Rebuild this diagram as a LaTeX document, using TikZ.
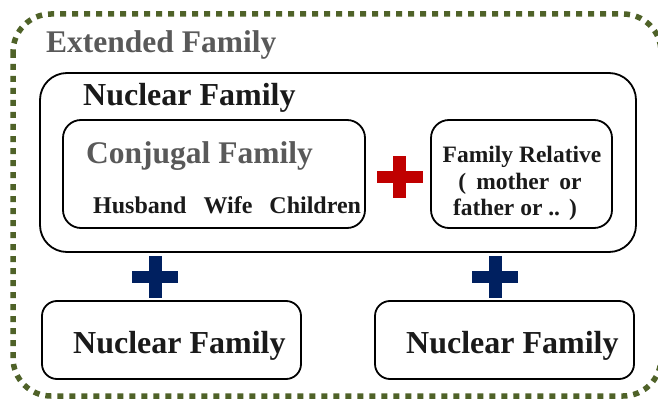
\documentclass[tikz,border=0pt]{standalone}
\usepackage{fontspec}
\setmainfont{Liberation Serif}
\definecolor{olive}{HTML}{4F6228}
\definecolor{grtext}{HTML}{595959}
\definecolor{plusred}{HTML}{C00000}
\definecolor{plusblue}{HTML}{002060}
\definecolor{ink}{HTML}{1A1A1A}
\tikzset{
  box/.style={draw=black, line width=1.8pt},
  lbl/.style={inner sep=0pt, anchor=base west, text=ink, font=\bfseries},
  rlbl/.style={inner sep=0pt, anchor=base, text=ink, font=\fontsize{23.5}{27}\selectfont\bfseries},
  plusmark/.pic={
    \fill (-23,-6) rectangle (23,6);
    \fill (-6.5,-21) rectangle (6.5,21);
  }
}
\begin{document}
\begin{tikzpicture}[x=1pt,y=-1pt]
\useasboundingbox (0,0) rectangle (658,401);
\fill[white] (0,0) rectangle (658,401);
% outer extended family
\draw[olive, line width=5.5pt, dash pattern=on 6pt off 6pt, rounded corners=38pt]
  (13,14) rectangle (661,396);
\node[lbl, text=grtext, font=\fontsize{31.5}{33}\selectfont\bfseries] (ext) at (46,53) {Extended Family};
% nuclear family big box
\draw[box, rounded corners=27pt] (40,73) rectangle (636,252);
\node[lbl, font=\fontsize{32}{34}\selectfont\bfseries] (nuc) at (83,106) {Nuclear Family};
% conjugal box
\draw[box, rounded corners=18pt] (63,120) rectangle (365,228);
\node[lbl, text=grtext, font=\fontsize{31.5}{33}\selectfont\bfseries] (conj) at (86,163) {Conjugal Family};
\node[lbl, font=\fontsize{24}{26}\selectfont\bfseries] (hwc) at (93,213) {Husband\hspace{17pt}Wife\hspace{17pt}Children};
% relative box
\draw[box, rounded corners=18pt] (431,120) rectangle (612,228);
\node[rlbl] (rel1) at (522,162) {Family Relative};
\node[rlbl] (rel2) at (520,189) {(\hspace{10pt}mother\hspace{10pt}or};
\node[rlbl] (rel3) at (515,215) {father or ..\hspace{9pt})};
% plus signs
\pic[plusred] at (399.5,177) {plusmark};
\pic[plusblue] at (155,276.5) {plusmark};
\pic[plusblue] at (495,276.5) {plusmark};
% bottom boxes
\draw[box, rounded corners=15pt] (42,301) rectangle (301,379);
\node[lbl, font=\fontsize{32}{34}\selectfont\bfseries] (nuc2) at (73,353) {Nuclear Family};
\draw[box, rounded corners=15pt] (375,301) rectangle (634,379);
\node[lbl, font=\fontsize{32}{34}\selectfont\bfseries] (nuc3) at (406,353) {Nuclear Family};
\end{tikzpicture}
\end{document}
